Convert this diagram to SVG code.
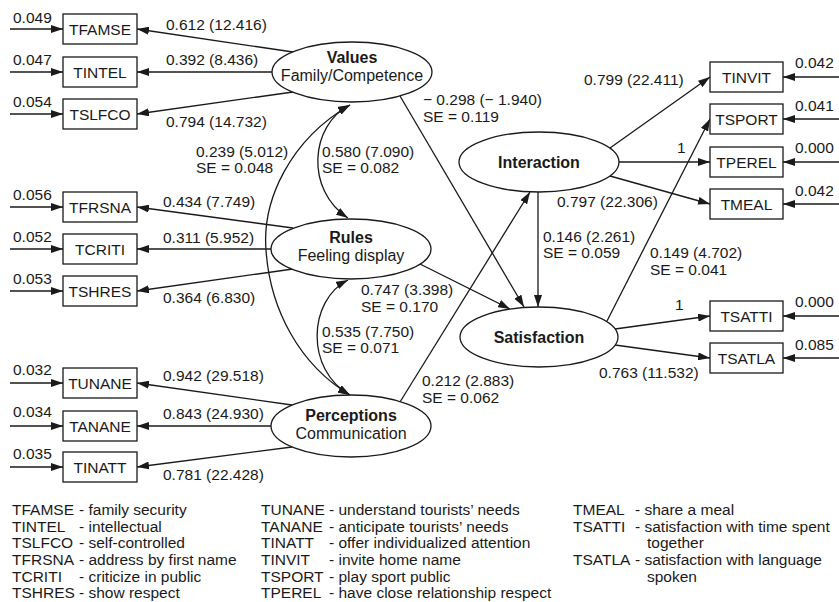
<svg xmlns="http://www.w3.org/2000/svg" width="839" height="602" viewBox="0 0 839 602">
  <defs>
    <marker id="arr" viewBox="0 0 12 8" refX="12" refY="4" markerWidth="12" markerHeight="8" markerUnits="userSpaceOnUse" orient="auto-start-reverse">
      <path d="M0,0 L12,4 L0,8 z" fill="#1a1a1a"/>
    </marker>
    <style>
      text { font-family: "Liberation Sans", Arial, sans-serif; fill: #1a1a1a; }
      .lbl { font-size: 15.5px; }
      .box rect { fill: #fff; stroke: #1a1a1a; stroke-width: 1.3; }
      .box text { font-size: 15.5px; text-anchor: middle; }
      .lat ellipse { fill: #fff; stroke: #1a1a1a; stroke-width: 1.3; }
      .lat text { font-size: 16px; text-anchor: middle; }
      .lat .t { font-weight: bold; }
      .edges line, .edges path { stroke: #1a1a1a; stroke-width: 1.3; fill: none; marker-end: url(#arr); }
      .edges .both { marker-start: url(#arr); }
      .legend text { font-size: 15.5px; }
    </style>
  </defs>
  <rect width="839" height="602" fill="#fff"/>

  <!-- connectors -->
  <g class="edges">
    <!-- error terms, left -->
    <line x1="10" y1="29" x2="63" y2="29"/>
    <line x1="10" y1="72" x2="63" y2="72"/>
    <line x1="10" y1="114" x2="63" y2="114"/>
    <line x1="10" y1="207" x2="63" y2="207"/>
    <line x1="10" y1="249" x2="63" y2="249"/>
    <line x1="10" y1="291" x2="63" y2="291"/>
    <line x1="10" y1="383" x2="63" y2="383"/>
    <line x1="10" y1="426" x2="63" y2="426"/>
    <line x1="10" y1="467" x2="63" y2="467"/>
    <!-- error terms, right -->
    <line x1="839" y1="77" x2="783" y2="77"/>
    <line x1="839" y1="119" x2="783" y2="119"/>
    <line x1="839" y1="162" x2="783" y2="162"/>
    <line x1="839" y1="204" x2="783" y2="204"/>
    <line x1="839" y1="316" x2="783" y2="316"/>
    <line x1="839" y1="358" x2="783" y2="358"/>
    <!-- loadings: Values -->
    <line x1="293" y1="52" x2="137" y2="29"/>
    <line x1="272" y1="72" x2="137" y2="72"/>
    <line x1="293" y1="92" x2="137" y2="114"/>
    <!-- loadings: Rules -->
    <line x1="293" y1="228" x2="137" y2="207"/>
    <line x1="271" y1="249" x2="137" y2="249"/>
    <line x1="293" y1="269" x2="137" y2="291"/>
    <!-- loadings: Perceptions -->
    <line x1="292" y1="405" x2="137" y2="383"/>
    <line x1="271" y1="426" x2="137" y2="426"/>
    <line x1="292" y1="447" x2="137" y2="467"/>
    <!-- loadings: Interaction -->
    <line x1="610" y1="148" x2="710" y2="77"/>
    <line x1="619" y1="162" x2="710" y2="162"/>
    <line x1="610" y1="176" x2="710" y2="204"/>
    <!-- loadings: Satisfaction -->
    <line x1="607" y1="321" x2="710" y2="119"/>
    <line x1="615" y1="329" x2="710" y2="316"/>
    <line x1="615" y1="345" x2="710" y2="358"/>
    <!-- structural paths -->
    <line x1="400" y1="96" x2="524" y2="307"/>
    <line x1="420" y1="264" x2="510" y2="309"/>
    <line x1="400" y1="402" x2="530" y2="192"/>
    <line x1="538" y1="192" x2="538" y2="307"/>
    <!-- covariances -->
    <path class="both" d="M350,105 C290,140 262,200 266,250 C270,310 300,365 350,395"/>
    <path class="both" d="M350,105 C310,125 305,190 348,218"/>
    <path class="both" d="M348,280 C308,300 305,370 350,395"/>
  </g>

  <!-- measured items -->
  <g id="TFAMSE" class="box"><rect x="63" y="14" width="74" height="30"/><text x="100" y="35">TFAMSE</text></g>
  <g id="TINTEL" class="box"><rect x="63" y="57" width="74" height="30"/><text x="100" y="78">TINTEL</text></g>
  <g id="TSLFCO" class="box"><rect x="63" y="99" width="74" height="30"/><text x="100" y="120">TSLFCO</text></g>
  <g id="TFRSNA" class="box"><rect x="63" y="192" width="74" height="30"/><text x="100" y="213">TFRSNA</text></g>
  <g id="TCRITI" class="box"><rect x="63" y="234" width="74" height="30"/><text x="100" y="255">TCRITI</text></g>
  <g id="TSHRES" class="box"><rect x="63" y="276" width="74" height="30"/><text x="100" y="297">TSHRES</text></g>
  <g id="TUNANE" class="box"><rect x="63" y="368" width="74" height="30"/><text x="100" y="389">TUNANE</text></g>
  <g id="TANANE" class="box"><rect x="63" y="411" width="74" height="30"/><text x="100" y="432">TANANE</text></g>
  <g id="TINATT" class="box"><rect x="63" y="452" width="74" height="30"/><text x="100" y="473">TINATT</text></g>
  <g id="TINVIT" class="box"><rect x="710" y="62" width="73" height="30"/><text x="746.5" y="83">TINVIT</text></g>
  <g id="TSPORT" class="box"><rect x="710" y="104" width="73" height="30"/><text x="746.5" y="125">TSPORT</text></g>
  <g id="TPEREL" class="box"><rect x="710" y="147" width="73" height="30"/><text x="746.5" y="168">TPEREL</text></g>
  <g id="TMEAL" class="box"><rect x="710" y="189" width="73" height="30"/><text x="746.5" y="210">TMEAL</text></g>
  <g id="TSATTI" class="box"><rect x="710" y="301" width="73" height="30"/><text x="746.5" y="322">TSATTI</text></g>
  <g id="TSATLA" class="box"><rect x="710" y="343" width="73" height="30"/><text x="746.5" y="364">TSATLA</text></g>

  <!-- latent constructs -->
  <g id="Values" class="lat"><ellipse cx="352" cy="72" rx="80" ry="30"/><text class="t" x="352" y="63">Values</text><text x="352" y="81">Family/Competence</text></g>
  <g id="Rules" class="lat"><ellipse cx="351" cy="249" rx="80" ry="30"/><text class="t" x="351" y="243">Rules</text><text x="351" y="261">Feeling display</text></g>
  <g id="Perceptions" class="lat"><ellipse cx="351" cy="426" rx="80" ry="31"/><text class="t" x="351" y="421">Perceptions</text><text x="351" y="439">Communication</text></g>
  <g id="Interaction" class="lat"><ellipse cx="539" cy="162" rx="80" ry="30"/><text class="t" x="539" y="168">Interaction</text></g>
  <g id="Satisfaction" class="lat"><ellipse cx="539" cy="337" rx="79" ry="30"/><text class="t" x="539" y="343">Satisfaction</text></g>

  <!-- estimates -->
  <g class="lbl">
    <text x="13" y="23">0.049</text>
    <text x="13" y="65">0.047</text>
    <text x="13" y="107">0.054</text>
    <text x="13" y="200">0.056</text>
    <text x="13" y="242">0.052</text>
    <text x="13" y="284">0.053</text>
    <text x="13" y="375">0.032</text>
    <text x="13" y="417">0.034</text>
    <text x="13" y="459">0.035</text>
    <text x="795" y="68">0.042</text>
    <text x="795" y="111">0.041</text>
    <text x="795" y="153">0.000</text>
    <text x="795" y="196">0.042</text>
    <text x="795" y="307">0.000</text>
    <text x="795" y="350">0.085</text>

    <text x="166" y="30">0.612 (12.416)</text>
    <text x="166" y="65">0.392 (8.436)</text>
    <text x="166" y="127">0.794 (14.732)</text>
    <text x="163" y="207">0.434 (7.749)</text>
    <text x="163" y="243">0.311 (5.952)</text>
    <text x="163" y="303">0.364 (6.830)</text>
    <text x="163" y="381">0.942 (29.518)</text>
    <text x="163" y="419">0.843 (24.930)</text>
    <text x="163" y="480">0.781 (22.428)</text>

    <text x="584" y="85">0.799 (22.411)</text>
    <text x="677" y="153">1</text>
    <text x="557" y="207">0.797 (22.306)</text>
    <text x="675" y="310">1</text>
    <text x="599" y="378">0.763 (11.532)</text>

    <text x="423" y="105">− 0.298 (− 1.940)</text>
    <text x="423" y="122">SE = 0.119</text>
    <text x="543" y="242">0.146 (2.261)</text>
    <text x="543" y="258">SE = 0.059</text>
    <text x="650" y="258">0.149 (4.702)</text>
    <text x="650" y="275">SE = 0.041</text>
    <text x="361" y="295">0.747 (3.398)</text>
    <text x="361" y="312">SE = 0.170</text>
    <text x="422" y="386">0.212 (2.883)</text>
    <text x="422" y="403">SE = 0.062</text>
    <text x="196" y="157">0.239 (5.012)</text>
    <text x="196" y="173">SE = 0.048</text>
    <text x="322" y="157">0.580 (7.090)</text>
    <text x="322" y="173">SE = 0.082</text>
    <text x="322" y="337">0.535 (7.750)</text>
    <text x="322" y="353">SE = 0.071</text>
  </g>

  <!-- key -->
  <g class="legend">
    <text x="12" y="515">TFAMSE</text><text x="79" y="515">- family security</text>
    <text x="12" y="532">TINTEL</text><text x="79" y="532">- intellectual</text>
    <text x="12" y="548">TSLFCO</text><text x="79" y="548">- self-controlled</text>
    <text x="12" y="565">TFRSNA</text><text x="79" y="565">- address by first name</text>
    <text x="12" y="582">TCRITI</text><text x="79" y="582">- criticize in public</text>
    <text x="12" y="598">TSHRES</text><text x="79" y="598">- show respect</text>

    <text x="261" y="515">TUNANE</text><text x="329" y="515">- understand tourists’ needs</text>
    <text x="261" y="532">TANANE</text><text x="329" y="532">- anticipate tourists’ needs</text>
    <text x="261" y="548">TINATT</text><text x="329" y="548">- offer individualized attention</text>
    <text x="261" y="565">TINVIT</text><text x="329" y="565">- invite home name</text>
    <text x="261" y="582">TSPORT</text><text x="329" y="582">- play sport public</text>
    <text x="261" y="598">TPEREL</text><text x="329" y="598">- have close relationship respect</text>

    <text x="573" y="515">TMEAL</text><text x="635" y="515">- share a meal</text>
    <text x="573" y="532">TSATTI</text><text x="635" y="532">- satisfaction with time spent</text>
    <text x="647" y="548">together</text>
    <text x="573" y="565">TSATLA</text><text x="635" y="565">- satisfaction with language</text>
    <text x="647" y="582">spoken</text>
  </g>
</svg>
